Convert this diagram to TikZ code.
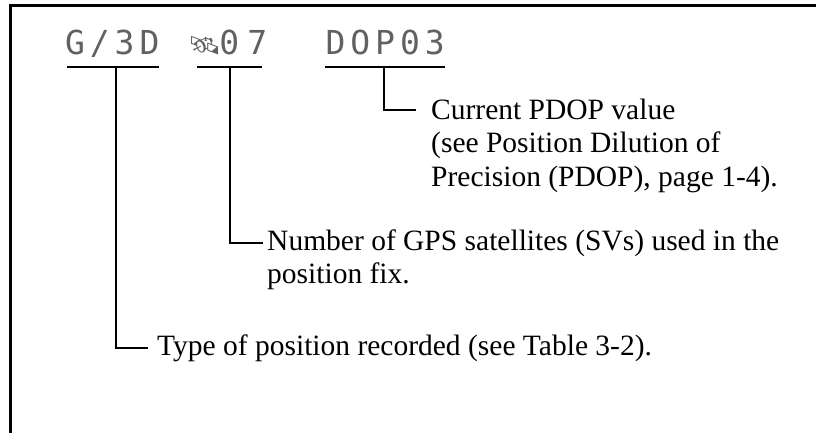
\documentclass[tikz,border=0pt]{standalone}
\usepackage{fontspec}
\setmainfont{Liberation Serif}
\newfontfamily\dmfont{DejaVu Sans Mono}
\newfontfamily\emojifont{Noto Emoji}
\newcommand{\dmc}[1]{\makebox[24.8pt]{#1}}
\begin{document}
\begin{tikzpicture}[x=1pt,y=-1pt,
  frame/.style={line width=3pt},
  conn/.style={line width=1.8pt},
  lcd/.style={inner sep=0pt,anchor=base west,text=black!62,font=\dmfont\fontsize{33}{33}\selectfont},
  lbl/.style={inner sep=0pt,anchor=base west,font=\fontsize{29.5}{33}\selectfont}]
\useasboundingbox (0,0) rectangle (816,433);
% frame
\draw[frame] (816,5.5) -- (10.5,5.5) -- (10.5,433);
% LCD readout
\node[lcd] (g1) at (62.5,55) {\dmc{G}\dmc{/}\dmc{3}\dmc{D}};
\node[lcd] (g2) at (192,55) {\makebox[24.8pt]{\emojifont\fontsize{26}{26}\selectfont 🛰}\dmc{0}\makebox[31pt]{7}};
\node[lcd] (g3) at (323,55) {\dmc{D}\dmc{O}\dmc{P}\dmc{0}\dmc{3}};
% underlines and stems
\coordinate (u1a) at (67,67);  \coordinate (u1b) at (159,67); \coordinate (s1) at (116,67);
\coordinate (u2a) at (197,67); \coordinate (u2b) at (262,67); \coordinate (s2) at (230,67);
\coordinate (u3a) at (325,67); \coordinate (u3b) at (445,67); \coordinate (s3) at (384,67);
\draw[conn] (u1a) -- (u1b);
\draw[conn] (u2a) -- (u2b);
\draw[conn] (u3a) -- (u3b);
% labels
\node[lbl] (l3a) at (431,120) {Current PDOP value};
\node[lbl] (l3b) at (431,153) {(see Position Dilution of};
\node[lbl] (l3c) at (431,186) {Precision (PDOP), page 1-4).};
\node[lbl] (l2a) at (267,250) {Number of GPS satellites (SVs) used in the};
\node[lbl] (l2b) at (267,283) {position fix.};
\node[lbl] (l1a) at (157,355) {Type of position recorded (see Table 3-2).};
% connectors
\draw[conn,shorten >=15pt] (s3) |- (l3a.west);
\draw[conn,shorten >=4pt] (s2) |- (l2a.west);
\draw[conn,shorten >=9pt] (s1) |- (l1a.west);
\end{tikzpicture}
\end{document}
